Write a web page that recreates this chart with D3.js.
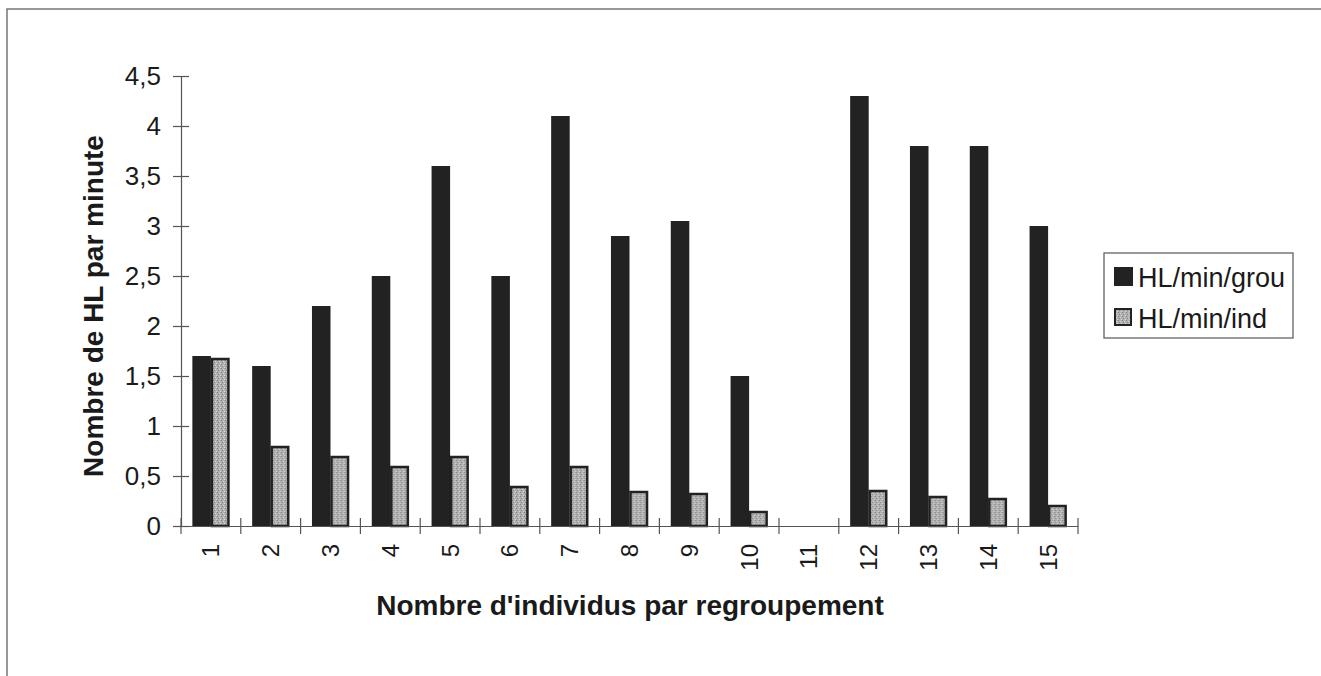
<!DOCTYPE html>
<html>
<head>
<meta charset="utf-8">
<script src="https://cdn.jsdelivr.net/npm/d3@7"></script>
<style>
  body { margin: 0; background: #fff; }
  svg text { font-family: "Liberation Sans", Arial, sans-serif; fill: #1a1a1a; }
</style>
</head>
<body>
<svg id="chart" width="1321" height="676"></svg>
<script>
// data
var categories = ["1", "2", "3", "4", "5", "6", "7", "8", "9", "10", "11", "12", "13", "14", "15"];
var seriesNames = ["HL/min/grou", "HL/min/ind"];
var grou = [1.7, 1.6, 2.2, 2.5, 3.6, 2.5, 4.1, 2.9, 3.05, 1.5, 0, 4.3, 3.8, 3.8, 3.0];
var ind = [1.68, 0.8, 0.7, 0.6, 0.7, 0.4, 0.6, 0.35, 0.33, 0.15, 0, 0.36, 0.3, 0.28, 0.21];
var yTicks = [0, 0.5, 1, 1.5, 2, 2.5, 3, 3.5, 4, 4.5];

var svg = d3.select("#chart");

// speckled grey fill for second series
var defs = svg.append("defs");
var pat = defs.append("pattern")
    .attr("id", "speckle")
    .attr("patternUnits", "userSpaceOnUse")
    .attr("width", 4).attr("height", 4);
pat.append("rect").attr("width", 4).attr("height", 4).attr("fill", "#b0b0b0");
pat.append("rect").attr("x", 0).attr("y", 0).attr("width", 1).attr("height", 1).attr("fill", "#808080");
pat.append("rect").attr("x", 2).attr("y", 1).attr("width", 1).attr("height", 1).attr("fill", "#d4d4d4");
pat.append("rect").attr("x", 1).attr("y", 2).attr("width", 1).attr("height", 1).attr("fill", "#888");
pat.append("rect").attr("x", 3).attr("y", 3).attr("width", 1).attr("height", 1).attr("fill", "#d8d8d8");

// frame (top and left edge of the scanned page)
svg.append("path")
    .attr("d", "M7,676 L7,9 L1321,9")
    .attr("fill", "none")
    .attr("stroke", "#777")
    .attr("stroke-width", 1.5);

var plotLeft = 181, plotRight = 1078, plotTop = 76, plotBottom = 526;

var x = d3.scaleBand()
    .domain(categories)
    .range([plotLeft, plotRight])
    .padding(0);

var x1 = d3.scaleBand()
    .domain(seriesNames)
    .range([x.bandwidth() * 0.19, x.bandwidth() * 0.81]);

var y = d3.scaleLinear()
    .domain([0, 4.5])
    .range([plotBottom, plotTop]);

//Bars
var rows = categories.map(function (c, i) {
    return { cat: c, values: [grou[i], ind[i]] };
});

var groups = svg.selectAll("g.grp")
    .data(rows)
    .enter().append("g")
    .attr("class", "grp")
    .attr("transform", function (d) { return "translate(" + x(d.cat) + ",0)"; });

groups.selectAll("rect")
    .data(function (d) {
        return d.values.map(function (v, j) { return { name: seriesNames[j], value: v, j: j }; })
            .filter(function (o) { return o.value > 0; });
    })
    .enter().append("rect")
    .attr("x", function (d) { return x1(d.name) + (d.j == 1 ? 1 : 0); })
    .attr("y", function (d) { return y(d.value) + (d.j == 1 ? 1 : 0); })
    .attr("width", function (d) { return x1.bandwidth() - (d.j == 1 ? 2 : 0); })
    .attr("height", function (d) { return y(0) - y(d.value) - (d.j == 1 ? 1 : 0); })
    .attr("fill", function (d) { return d.j == 0 ? "#222" : "url(#speckle)"; })
    .attr("stroke", function (d) { return d.j == 0 ? "none" : "#222"; })
    .attr("stroke-width", 2.5);

//Axes
var yAxis = svg.append("g")
    .attr("transform", "translate(" + plotLeft + ",0)")
    .call(d3.axisLeft(y)
        .tickValues(yTicks)
        .tickSize(0)
        .tickPadding(20)
        .tickFormat(function (d) { return String(d).replace(".", ","); }));
yAxis.select(".domain").attr("stroke", "#555").attr("stroke-width", 1.2);
yAxis.selectAll(".tick line").attr("x1", -8).attr("x2", 8).attr("stroke", "#555").attr("stroke-width", 1.2);
yAxis.selectAll(".tick text").attr("font-size", 26).attr("fill", "#1a1a1a");

var xAxis = svg.append("g")
    .attr("transform", "translate(0," + plotBottom + ")")
    .call(d3.axisBottom(x).tickSize(0).tickFormat(""));
xAxis.select(".domain").attr("stroke", "#555").attr("stroke-width", 1.2);

// tick marks at band boundaries
svg.selectAll("line.xtick")
    .data(categories.concat(["end"]))
    .enter().append("line")
    .attr("class", "xtick")
    .attr("x1", function (d, i) { return plotLeft + i * x.bandwidth(); })
    .attr("x2", function (d, i) { return plotLeft + i * x.bandwidth(); })
    .attr("y1", plotBottom - 8)
    .attr("y2", plotBottom + 8)
    .attr("stroke", "#555")
    .attr("stroke-width", 1.2);

svg.selectAll("text.xlab")
    .data(categories)
    .enter().append("text")
    .attr("class", "xlab")
    .attr("text-anchor", "end")
    .attr("dominant-baseline", "central")
    .attr("font-size", 24)
    .attr("transform", function (d) {
        return "translate(" + (x(d) + x.bandwidth() / 2) + "," + (plotBottom + 18) + ") rotate(-90)";
    })
    .text(function (d) { return d; });

//Axis titles
svg.append("text")
    .attr("x", 630)
    .attr("y", 615)
    .attr("text-anchor", "middle")
    .attr("font-size", 28)
    .attr("font-weight", "bold")
    .text("Nombre d'individus par regroupement");

svg.append("text")
    .attr("transform", "translate(103,306) rotate(-90)")
    .attr("text-anchor", "middle")
    .attr("font-size", 28)
    .attr("font-weight", "bold")
    .text("Nombre de HL par minute");

//Legend
var legend = svg.append("g").attr("transform", "translate(1104,253)");
legend.append("rect")
    .attr("width", 189).attr("height", 85)
    .attr("fill", "#fff")
    .attr("stroke", "#555")
    .attr("stroke-width", 1.2);

var item = legend.selectAll("g.item")
    .data(seriesNames)
    .enter().append("g")
    .attr("class", "item")
    .attr("transform", function (d, i) { return "translate(10," + (14 + i * 41) + ")"; });

item.append("rect")
    .attr("x", function (d, i) { return i == 1 ? 1 : 0; })
    .attr("y", function (d, i) { return i == 1 ? 1 : 0; })
    .attr("width", function (d, i) { return i == 1 ? 16 : 19; })
    .attr("height", function (d, i) { return i == 1 ? 16 : 19; })
    .attr("fill", function (d, i) { return i == 0 ? "#222" : "url(#speckle)"; })
    .attr("stroke", function (d, i) { return i == 0 ? "none" : "#222"; })
    .attr("stroke-width", 2);

item.append("text")
    .attr("x", 24)
    .attr("y", 20)
    .attr("font-size", 27)
    .text(function (d) { return d; });
</script>
</body>
</html>
